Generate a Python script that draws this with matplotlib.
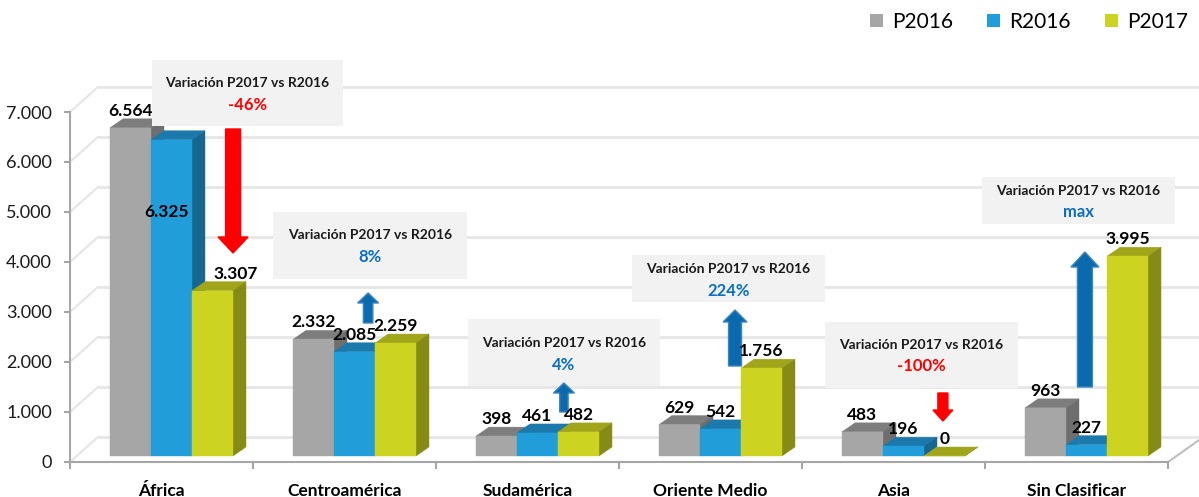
import matplotlib
matplotlib.use("Agg")
import matplotlib.pyplot as plt
from matplotlib.patches import Polygon, Rectangle, Patch

# ---------------- data ----------------
categories = ["África", "Centroamérica", "Sudamérica", "Oriente Medio", "Asia", "Sin Clasificar"]
series_names = ["P2016", "R2016", "P2017"]
p2016 = [6564, 2332, 398, 629, 483, 963]
r2016 = [6325, 2085, 461, 542, 196, 227]
p2017 = [3307, 2259, 482, 1756, 0, 3995]
variation = ["-46%", "8%", "4%", "224%", "-100%", "max"]
yticks = [0, 1000, 2000, 3000, 4000, 5000, 6000, 7000]

def fmt(v):
    return f"{v:,}".replace(",", ".")

ytick_labels = [fmt(v) for v in yticks]

# ---------------- style ----------------
FONT = ["Lato", "DejaVu Sans"]
plt.rcParams["font.family"] = FONT

front_cols = ["#a6a6a6", "#219ed9", "#ccd321"]
top_cols = ["#7d7d7d", "#1b79ab", "#a0a51a"]
side_cols = ["#6e6e6e", "#176690", "#868b15"]

fig = plt.figure(figsize=(11.99, 4.97), dpi=100)
ax = fig.add_axes([70 / 1199, 35 / 497, (1168 - 70) / 1199, 380 / 497])
ax.set_xlim(-0.5, len(categories) - 0.5)
ax.set_ylim(0, 7600)

W = 41 / 183          # bar width in category units
START = -0.5 + 40 / 183
DX = 13 / 183         # depth (x)
DY = 180              # depth (y, data units)
BASE = 120            # floor offset
WALL_DX = 28 / 183
WALL_DY = 500

# back wall gridlines
grid_c = "#e6e6e6"
for v in yticks:
    ax.plot([-0.5 + WALL_DX, len(categories) - 0.5 + 0.2], [v + WALL_DY] * 2,
            color=grid_c, lw=2, zorder=0, clip_on=False, solid_capstyle="butt")
    ax.plot([-0.5, -0.5 + WALL_DX], [v, v + WALL_DY], color=grid_c, lw=1.5,
            zorder=0, clip_on=False)
# floor right edge
ax.plot([len(categories) - 0.5, len(categories) - 0.5 + 0.17], [0, 440],
        color="#bfbfbf", lw=1.5, zorder=1, clip_on=False)

series = [p2016, r2016, p2017]
label_offsets = {(0, 1): (-5, -89), (0, 2): (23, 0)}
for s, vals in enumerate(series):
    zb = 3 + 3 * s
    for i, v in enumerate(vals):
        xl = i + START + s * W
        top = BASE + v
        ax.add_patch(Polygon([(xl, top), (xl + W, top), (xl + W + DX, top + DY), (xl + DX, top + DY)],
                             closed=True, facecolor=top_cols[s], edgecolor=top_cols[s], lw=0.3, zorder=zb))
        ax.add_patch(Polygon([(xl + W, BASE), (xl + W + DX, BASE + DY), (xl + W + DX, top + DY), (xl + W, top)],
                             closed=True, facecolor=side_cols[s], edgecolor=side_cols[s], lw=0.3, zorder=zb + 1))
    xs = [i + START + s * W for i in range(len(vals))]
    ax.bar(xs, vals, width=W, bottom=BASE, align="edge", color=front_cols[s],
           edgecolor=front_cols[s], lw=0.3, zorder=zb + 2)
    for i, v in enumerate(vals):
        ox, oy = label_offsets.get((i, s), (0, 0))
        ax.annotate(fmt(v), (xs[i] + W / 2, BASE + v), xytext=(ox, 17 + oy),
                    textcoords="offset pixels", ha="center", va="center",
                    fontsize=12.5, fontweight="bold", color="black", zorder=20,
                    annotation_clip=False)

# annotation boxes: (x0, x1, y_top, y_bottom, y_line1, y_line2)
boxes = [
    (-0.052, 0.992, 8040, 6720, 7580, 7140),
    (0.609, 1.669, 5000, 3660, 4540, 4100),
    (1.675, 2.724, 2860, 1520, 2380, 1940),
    (2.571, 3.626, 4140, 3200, 3860, 3420),
    (3.626, 4.680, 2800, 1480, 2340, 1920),
    (4.484, 5.538, 5700, 4760, 5420, 5000),
]
for (x0, x1, yt, yb, y1, y2), var in zip(boxes, variation):
    ax.add_patch(Rectangle((x0, yb), x1 - x0, yt - yb, facecolor="#f2f2f2",
                           edgecolor="none", zorder=15, clip_on=False))
    xc = (x0 + x1) / 2
    ax.text(xc, y1, "Variación P2017 vs R2016", ha="center", va="center",
            fontsize=10, fontweight="bold", color="#1a1a1a", zorder=16, clip_on=False)
    col = "#ff0000" if var.startswith("-") else "#0a6ec8"
    ax.text(xc, y2, var, ha="center", va="center", fontsize=12,
            fontweight="bold", color=col, zorder=16, clip_on=False)

# arrows: (x, tail, tip, shaft width, head width, head length)
arrows = [
    (0.391, 6660, 4180, 0.082, 0.164, 320),
    (1.129, 2780, 3380, 0.052, 0.115, 200),
    (2.199, 1000, 1580, 0.046, 0.115, 200),
    (3.134, 1920, 3040, 0.071, 0.131, 240),
    (4.270, 1380, 820, 0.055, 0.109, 220),
    (5.046, 1500, 4200, 0.082, 0.153, 300),
]
for (x, tail, tip, sw, hw, hl), var in zip(arrows, variation):
    sign = 1 if tip > tail else -1
    hb = tip - sign * hl
    verts = [(x - sw / 2, tail), (x - sw / 2, hb), (x - hw / 2, hb), (x, tip),
             (x + hw / 2, hb), (x + sw / 2, hb), (x + sw / 2, tail)]
    if sign < 0:
        fc, ec = "#ff0000", "#ff0000"
    else:
        fc, ec = "#0b6aad", "#3c86c0"
    ax.add_patch(Polygon(verts, closed=True, facecolor=fc, edgecolor=ec, lw=1,
                         zorder=17, clip_on=False))

# axes styling
for sp in ["top", "right"]:
    ax.spines[sp].set_visible(False)
ax.spines["left"].set_bounds(0, 7000)
ax.spines["left"].set_color("#a6a6a6")
ax.spines["bottom"].set_color("#a6a6a6")
ax.spines["left"].set_linewidth(1.5)
ax.spines["bottom"].set_linewidth(1.5)
ax.set_yticks(yticks)
ax.set_yticklabels(ytick_labels)
ax.tick_params(axis="y", length=4, width=1.5, color="#a6a6a6", pad=9,
               labelsize=13, labelcolor="#1a1a1a")
ax.set_xticks([i - 0.5 for i in range(len(categories) + 1)])
ax.set_xticklabels([])
ax.set_xticks(range(len(categories)), minor=True)
ax.set_xticklabels(categories, minor=True)
ax.tick_params(axis="x", which="major", length=5, width=1.5, color="#a6a6a6")
ax.tick_params(axis="x", which="minor", length=0, pad=15, labelsize=12.5)
for lab in ax.get_xticklabels(minor=True):
    lab.set_fontweight("bold")
ax.patch.set_visible(False)

handles = [Patch(facecolor=c, edgecolor="none") for c in front_cols]
fig.legend(handles, series_names, loc="upper left", bbox_to_anchor=(870 / 1199, 1 - 12 / 497),
           ncol=3, frameon=False, fontsize=15, handlelength=0.6, handleheight=0.6,
           handletextpad=0.45, columnspacing=1.65, borderpad=0, borderaxespad=0)

fig.savefig("out.png", dpi=100)
